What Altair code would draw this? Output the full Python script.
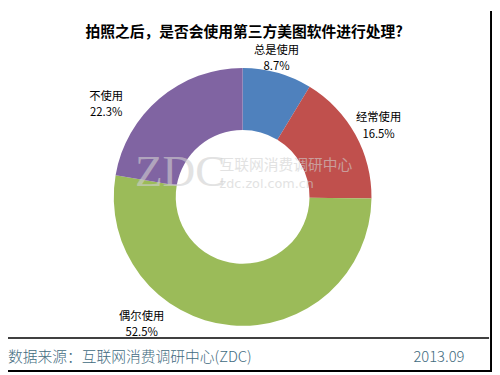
import altair as alt
import pandas as pd

# ---- data ----
categories = ["总是使用", "经常使用", "偶尔使用", "不使用"]
shares = [8.7, 16.5, 52.5, 22.3]
colors = ["#4f81bd", "#c0504d", "#9bbb59", "#8064a2"]
title_text = "拍照之后，是否会使用第三方美图软件进行处理?"
source_text = "数据来源：互联网消费调研中心(ZDC)"
date_text = "2013.09"
wm_logo = "ZDC"
wm_name = "互联网消费调研中心"
wm_url = "zdc.zol.com.cn"

df = pd.DataFrame({
    "cat": categories,
    "share": shares,
    "order": list(range(len(categories))),
})
df["label"] = [f"{c}\n{v}%" for c, v in zip(categories, shares)]

W, H = 492, 367
CX, CY = 238.5, 189
R_OUT, R_IN = 131, 68
FONT = "Noto Sans CJK SC"

color_scale = alt.Scale(domain=categories, range=colors)

arcs = alt.Chart(df).mark_arc(outerRadius=R_OUT, innerRadius=R_IN).encode(
    theta=alt.Theta("share:Q", stack=True),
    order=alt.Order("order:Q"),
    color=alt.Color("cat:N", scale=color_scale, legend=None),
    x=alt.value(CX),
    y=alt.value(CY),
)

# label offsets (Excel-style placement) relative to radius-150 mid-angle point
offsets = {
    "总是使用": (-6, -4),
    "经常使用": (7, -7),
    "偶尔使用": (-89, -27),
    "不使用": (-42, 13),
}

label_layers = []
for c in categories:
    dx, dy = offsets[c]
    lyr = (
        alt.Chart(df)
        .transform_window(cum="sum(share)", sort=[alt.SortField("order", order="ascending")])
        .transform_calculate(mid="datum.cum - datum.share / 2")
        .transform_filter(alt.datum.cat == c)
        .mark_text(radius=150, dx=dx, dy=dy, lineBreak="\n", lineHeight=16.5,
                   fontSize=11.5, font=FONT, color="#000000", align="center",
                   baseline="middle")
        .encode(
            theta=alt.Theta("mid:Q", stack=False),
            text="label:N",
            x=alt.value(CX),
            y=alt.value(CY),
        )
    )
    label_layers.append(lyr)

one = pd.DataFrame({"a": [0]})

wm1 = alt.Chart(one).mark_text(fontSize=46, font="Liberation Serif", color="#d0d0d0",
                               opacity=0.6, align="center", baseline="middle").encode(
    text=alt.value(wm_logo), x=alt.value(175), y=alt.value(164))
wm2 = alt.Chart(one).mark_text(fontSize=15, font=FONT, color="#d0d0d0", opacity=0.6,
                               align="left", baseline="middle").encode(
    text=alt.value(wm_name), x=alt.value(215), y=alt.value(157))
wm3 = alt.Chart(one).mark_text(fontSize=13, font="DejaVu Sans", color="#d0d0d0", opacity=0.6,
                               align="left", baseline="middle").encode(
    text=alt.value(wm_url), x=alt.value(215), y=alt.value(176))

title = alt.Chart(one).mark_text(fontSize=15, fontWeight="bold", font=FONT, color="#000000",
                                 align="center", baseline="middle").encode(
    text=alt.value(title_text), x=alt.value(240), y=alt.value(21))

source = alt.Chart(one).mark_text(fontSize=15, fontWeight=300, font=FONT, color="#3f6b7e",
                                  align="left", baseline="middle").encode(
    text=alt.value(source_text), x=alt.value(0), y=alt.value(352))

date = alt.Chart(one).mark_text(fontSize=15, fontWeight=300, font=FONT, color="#3f6b7e",
                                align="right", baseline="middle").encode(
    text=alt.value(date_text), x=alt.value(464), y=alt.value(352))

sep = alt.Chart(one).mark_rule(color="#000000", strokeWidth=1.5).encode(
    x=alt.value(0), x2=alt.value(489), y=alt.value(332.5))
border_r = alt.Chart(one).mark_rule(color="#000000", strokeWidth=2).encode(
    x=alt.value(491), y=alt.value(0), y2=alt.value(367))
border_b = alt.Chart(one).mark_rule(color="#000000", strokeWidth=2).encode(
    x=alt.value(0), x2=alt.value(492), y=alt.value(366))

chart = alt.layer(arcs, wm1, wm2, wm3, *label_layers, title, source, date, sep, border_r, border_b).properties(
    width=W, height=H, padding=0, autosize=alt.AutoSizeParams(type="none"),
    background="#ffffff",
).configure_view(stroke=None)

chart.save("out.html", embed_options={"renderer": "svg", "actions": False})
